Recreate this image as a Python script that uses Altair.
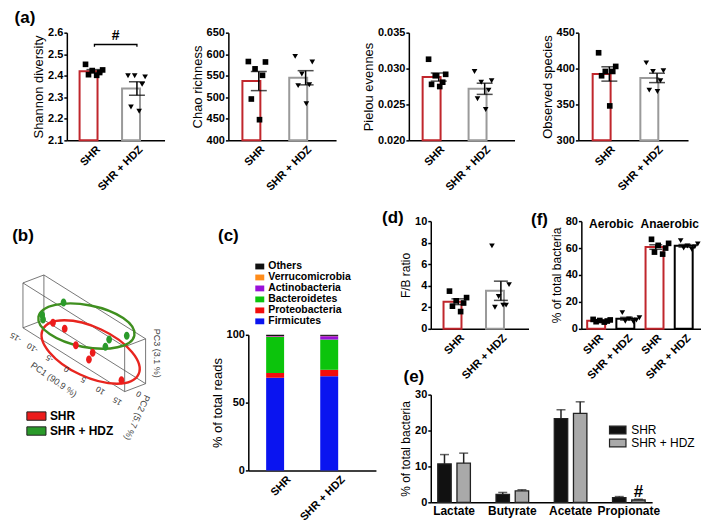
import itertools
import altair as alt
import numpy as np
import pandas as pd

FONT = "Liberation Sans"
GROUPS = ["SHR", "SHR + HDZ"]
RED = "#c0262c"
GRAY = "#9a9a9a"

# ---------------- data ----------------
# (a) alpha diversity (individual animals)
shannon_shr = [2.453, 2.427, 2.424, 2.415, 2.405, 2.402]
shannon_hdz = [2.400, 2.395, 2.400, 2.360, 2.255, 2.235]
chao_shr = [583, 582, 566, 551, 496, 448]
chao_hdz = [595, 582, 554, 529, 527, 485]
pielou_shr = [0.0313, 0.0292, 0.0290, 0.0281, 0.0278, 0.0275]
pielou_hdz = [0.0296, 0.0283, 0.0281, 0.0270, 0.0258, 0.0243]
observed_shr = [422, 403, 396, 396, 390, 348]
observed_hdz = [408, 397, 396, 383, 370, 368]
sig_x = ["SHR", "SHR", "SHR + HDZ", "SHR + HDZ"]
sig_y = [2.535, 2.545, 2.545, 2.535]
sig_label_y = 2.585

# (b) PCoA scores
pc1_lim = [-15, 15]
pc2_lim = [-6, 6]
pc3_lim = [-4, 4]
pc1_ticks = [-15, -10, -5, 0, 5, 10, 15]
pc2_ticks = [0]
b_shr_pc1 = [-8.2, -5.0, -1.2, 3.5, 2.3, 12.1]
b_shr_pc2 = [-2.0, -1.5, -2.5, -2.0, -1.8, -2.2]
b_shr_pc3 = [-1.0, -0.9, -2.3, -1.9, -3.6, -3.5]
b_hdz_pc1 = [-7.4, -13.2, -13.2, 6.2, 5.3, 11.5]
b_hdz_pc2 = [2.5, 1.5, 2.0, 2.2, 1.8, 2.0]
b_hdz_pc3 = [2.4, -1.9, -2.8, 1.0, -0.6, 3.7]
ell_pc1 = [2.9, -0.4]
ell_pc2 = [-2.0, 2.0]
ell_pc3 = [-2.0, 0.9]

# (c) phylum composition (%)
phyla = ["Firmicutes", "Proteobacteria", "Bacteroidetes", "Actinobacteria",
         "Verrucomicrobia", "Others"]
phyla_shr = [68.3, 3.5, 26.6, 0.6, 0.1, 0.9]
phyla_hdz = [69.5, 4.7, 22.3, 2.5, 0.2, 0.8]
phyla_colors = ["#0a14f0", "#f20c0c", "#0cc40c", "#9a10d8", "#ff8c1a", "#111111"]

# (d) F/B ratio
fb_shr = [3.5, 2.9, 2.6, 2.4, 2.1, 1.6]
fb_hdz = [7.7, 4.1, 3.0, 2.2, 2.0, 2.2]

# (f) aerobic / anaerobic
f_groups = ["Aerobic", "Anaerobic"]
aer_shr = [7.0, 6.6, 6.2, 5.8, 5.3, 5.0]
aer_hdz = [12.0, 8.2, 7.4, 6.6, 5.6, 5.2]
ana_shr = [66.5, 63.5, 62.0, 60.0, 57.0, 55.5]
ana_hdz = [65.5, 63.0, 61.5, 61.0, 60.0, 59.0]

# (e) short-chain fatty acids (mean, SEM)
acids = ["Lactate", "Butyrate", "Acetate", "Propionate"]
scfa_shr_mean = [10.7, 2.2, 23.3, 1.3]
scfa_shr_sem = [2.6, 0.55, 2.5, 0.3]
scfa_hdz_mean = [10.9, 3.2, 24.8, 0.65]
scfa_hdz_sem = [2.8, 0.3, 3.2, 0.2]
e_sig_y = 2.9

# ---------------- style helpers ----------------
JIT = [-0.6, 0.55, -0.15, 0.35, -0.4, 0.15]


def y_axis(title, values, fmt, title_size=13):
    return alt.Axis(title=title, values=values, format=fmt, grid=False,
                    titleFontSize=title_size, titleFontWeight="normal", titlePadding=2,
                    labelFontSize=11, labelFontWeight="bold", labelPadding=1,
                    tickSize=3, tickWidth=1.5, domainWidth=1.5)


def x_rot_axis(label_expr=None):
    kw = dict(title=None, labelAngle=-45, ticks=False, labelFontSize=11,
              labelFontWeight="bold", labelPadding=3, domainWidth=1.5)
    if label_expr:
        kw["labelExpr"] = label_expr
    return alt.Axis(**kw)


def label(txt, x, y, size=17, weight="bold", angle=0, color="black"):
    return alt.Chart(pd.DataFrame({"t": [txt]})).mark_text(
        fontSize=size, fontWeight=weight, align="center", baseline="middle",
        angle=angle, color=color).encode(text="t:N", x=alt.value(x), y=alt.value(y))


def dot_bar(slots, trts, vals, slot_domain, title, domain, ticks, fmt,
            hdz_color=GRAY, label_expr=None, pi=0.3, po=0.3, title_size=13, cap=16):
    pts = pd.DataFrame({"slot": slots, "trt": trts, "v": vals})
    pts["jit"] = [JIT[k % len(JIT)] for k in pts.groupby("slot").cumcount()]
    st = pts.groupby(["slot", "trt"], sort=False)["v"].agg(["mean", "sem"]).reset_index()
    st["lo"] = st["mean"] - st["sem"]
    st["hi"] = st["mean"] + st["sem"]
    bars = st.rename(columns={"mean": "v"})
    caps = pd.concat([st[["slot", "lo"]].rename(columns={"lo": "v"}),
                      st[["slot", "hi"]].rename(columns={"hi": "v"})])

    ysc = alt.Scale(domain=domain, nice=False, zero=False)
    yax = y_axis(title, ticks, fmt, title_size)

    def Y(f):
        return alt.Y(f"{f}:Q", scale=ysc, axis=yax)

    X = alt.X("slot:N", scale=alt.Scale(domain=slot_domain, paddingInner=pi, paddingOuter=po),
              axis=x_rot_axis(label_expr))
    is_shr = "datum.trt == 'SHR'"
    bar = alt.Chart(bars).mark_bar(fill="white", strokeWidth=2).encode(
        x=X, y=Y("v"), y2=alt.datum(domain[0]),
        stroke=alt.condition(is_shr, alt.value(RED), alt.value(hdz_color)))
    rule = alt.Chart(st).mark_rule(color="black", strokeWidth=1.5).encode(
        x=X, y=Y("lo"), y2="hi:Q")
    tick = alt.Chart(caps).mark_tick(color="black", size=cap, thickness=1.5).encode(
        x=X, y=Y("v"))
    dots = alt.Chart(pts).mark_point(filled=True, opacity=1, size=32, color="black").encode(
        x=X, y=Y("v"),
        xOffset=alt.XOffset("jit:Q", scale=alt.Scale(domain=[-1, 1])),
        shape=alt.condition(is_shr, alt.value("square"), alt.value("triangle-down")))
    return [bar, dots, rule, tick], X, Y


# ---------------- (a) ----------------
a_specs = [
    ("Shannon diversity", shannon_shr, shannon_hdz, [2.1, 2.6],
     [2.1, 2.2, 2.3, 2.4, 2.5, 2.6], ".1f", 98),
    ("Chao richness", chao_shr, chao_hdz, [400, 650],
     [400, 450, 500, 550, 600, 650], "d", 108),
    ("Pielou evennes", pielou_shr, pielou_hdz, [0.020, 0.035],
     [0.020, 0.025, 0.030, 0.035], ".3f", 106),
    ("Observed species", observed_shr, observed_hdz, [300, 450],
     [300, 350, 400, 450], "d", 110),
]
A_H = 108
a_charts = []
for i, (ttl, s, h, dom, tk, fmt, w) in enumerate(a_specs):
    grp = ["SHR"] * len(s) + ["SHR + HDZ"] * len(h)
    layers, X, Y = dot_bar(grp, grp, s + h, GROUPS, ttl, dom, tk, fmt)
    if i == 0:
        br = pd.DataFrame({"slot": sig_x, "v": sig_y, "o": range(len(sig_x))})
        layers.append(alt.Chart(br).mark_line(color="black", strokeWidth=1.3).encode(
            x=X, y=Y("v"), order="o:Q"))
        layers.append(alt.Chart(pd.DataFrame({"t": ["#"], "v": [sig_label_y]})).mark_text(
            fontSize=14, fontWeight="bold", color="black").encode(
            text="t:N", x=alt.value(w / 2), y=Y("v")))
        layers.append(label("(a)", -42, -15))
    a_charts.append(alt.layer(*layers).properties(width=w, height=A_H))

row1 = alt.hconcat(*a_charts, spacing=26)

# ---------------- (b) ----------------
B_W, B_H = 138, 225
B_SHIFT_X, B_SHIFT_Y = 54, 11
VIEW_O = (10, 118)
VIEW_U = (102, 64)
VIEW_V = (21, -8)
VIEW_H = (0, -45)


def project(p1, p2, p3):
    a = (np.asarray(p1, float) - pc1_lim[0]) / (pc1_lim[1] - pc1_lim[0])
    s = (np.asarray(p2, float) - pc2_lim[0]) / (pc2_lim[1] - pc2_lim[0])
    c = (np.asarray(p3, float) - pc3_lim[0]) / (pc3_lim[1] - pc3_lim[0])
    sx = VIEW_O[0] + a * VIEW_U[0] + s * VIEW_V[0] + c * VIEW_H[0]
    sy = VIEW_O[1] + a * VIEW_U[1] + s * VIEW_V[1] + c * VIEW_H[1]
    return sx, sy


bX = alt.X("sx:Q", scale=alt.Scale(domain=[B_SHIFT_X, B_SHIFT_X + B_W], nice=False,
                                   zero=False), axis=None)
bY = alt.Y("sy:Q", scale=alt.Scale(domain=[B_SHIFT_Y, B_SHIFT_Y + B_H], nice=False,
                                   zero=False, reverse=True), axis=None)

lims = (pc1_lim, pc2_lim, pc3_lim)
corners = list(itertools.product([0, 1], repeat=3))
edge_rows = []
eid = 0
for i, c1 in enumerate(corners):
    for c2 in corners[i + 1:]:
        if sum(abs(p - q) for p, q in zip(c1, c2)) == 1:
            for o, cn in enumerate((c1, c2)):
                sx, sy = project(*[lims[k][cn[k]] for k in range(3)])
                edge_rows.append({"edge": eid, "o": o, "sx": float(sx), "sy": float(sy)})
            eid += 1
edges = alt.Chart(pd.DataFrame(edge_rows)).mark_line(color="#555555", strokeWidth=0.8).encode(
    x=bX, y=bY, detail="edge:N", order="o:Q")

sx_s, sy_s = project(b_shr_pc1, b_shr_pc2, b_shr_pc3)
sx_h, sy_h = project(b_hdz_pc1, b_hdz_pc2, b_hdz_pc3)
pts_b = pd.DataFrame({"grp": ["SHR"] * 6 + ["SHR + HDZ"] * 6,
                      "sx": np.concatenate([sx_s, sx_h]), "sy": np.concatenate([sy_s, sy_h])})
SPHERE = "M0,-1A0.72,1 0 1,1 0,1A0.72,1 0 1,1 0,-1Z"
b_points = alt.Chart(pts_b).mark_point(filled=True, opacity=1, size=64, shape=SPHERE).encode(
    x=bX, y=bY,
    color=alt.Color("grp:N", scale=alt.Scale(domain=GROUPS, range=["#ec1c1c", "#2a9a2a"]),
                    legend=alt.Legend(title=None, orient="none", legendX=17 - B_SHIFT_X,
                                      legendY=200 - B_SHIFT_Y,
                                      symbolType="M-1.6,-0.7H1.6V0.7H-1.6Z", symbolSize=144,
                                      symbolStrokeColor="#222222", symbolStrokeWidth=1,
                                      labelFontSize=12, labelFontWeight="bold",
                                      labelColor="black", labelOffset=7, rowPadding=2)))

esx, esy = project(ell_pc1, ell_pc2, ell_pc3)
ell_styles = [("#e8251f", 0.47, 106, 25), ("#3f8f1f", 0.43, 98, 11)]
ell_layers = []
for k, (col, ratio, length, ang) in enumerate(ell_styles):
    path = f"M-1,0A1,{ratio} 0 1,1 1,0A1,{ratio} 0 1,1 -1,0Z"
    ell_layers.append(
        alt.Chart(pd.DataFrame({"sx": [float(esx[k])], "sy": [float(esy[k])]})).mark_point(
            shape=path, size=length ** 2, angle=ang, filled=False, opacity=1,
            strokeWidth=2.4, color=col).encode(x=bX, y=bY))

tx, ty = project(pc1_ticks, [pc2_lim[0]] * len(pc1_ticks), [pc3_lim[0]] * len(pc1_ticks))
pc1_lab = alt.Chart(pd.DataFrame({"t": [str(v) for v in pc1_ticks], "sx": tx - 7, "sy": ty + 9})
                    ).mark_text(angle=212, fontSize=8, color="#333333").encode(
    x=bX, y=bY, text="t:N")
t2x, t2y = project([pc1_lim[1]] * len(pc2_ticks), pc2_ticks, [pc3_lim[0]] * len(pc2_ticks))
pc2_lab = alt.Chart(pd.DataFrame({"t": [str(v) for v in pc2_ticks], "sx": t2x + 4, "sy": t2y + 6})
                    ).mark_text(angle=212, fontSize=8, color="#333333").encode(
    x=bX, y=bY, text="t:N")

ax_titles = []
for txt, p, off, ang in [("PC1 (90.9 %)", (0, pc2_lim[0], pc3_lim[0]), (-20, 20), 35),
                         ("PC3 (3.1 %)", (pc1_lim[1], pc2_lim[1], 0), (11, -8), 90),
                         ("PC2 (5.7 %)", (pc1_lim[1], 0, pc3_lim[0]), (2, 30), 115)]:
    px, py = project(*p)
    ax_titles.append(alt.Chart(pd.DataFrame({"t": [txt], "sx": [float(px) + off[0]],
                                             "sy": [float(py) + off[1]]})).mark_text(
        angle=ang, fontSize=9, color="#444444").encode(x=bX, y=bY, text="t:N"))

panel_b = alt.layer(edges, *ell_layers, b_points, pc1_lab, pc2_lab, *ax_titles,
                    label("(b)", 10 - B_SHIFT_X, 26 - B_SHIFT_Y)).properties(
    width=B_W, height=B_H)

# ---------------- (c) ----------------
C_W, C_H = 128, 136
c_df = pd.DataFrame({"trt": ["SHR"] * len(phyla) + ["SHR + HDZ"] * len(phyla),
                     "phylum": phyla * 2, "pct": phyla_shr + phyla_hdz,
                     "ord": list(range(len(phyla))) * 2})
legend_order = phyla[::-1]
c_colors = phyla_colors[::-1]
c_bars = alt.Chart(c_df).mark_bar().encode(
    x=alt.X("trt:N", scale=alt.Scale(domain=GROUPS, paddingInner=0.3, paddingOuter=0.33),
            axis=x_rot_axis()),
    y=alt.Y("pct:Q", stack="zero", scale=alt.Scale(domain=[0, 100], nice=False),
            axis=y_axis("% of total reads", [0, 50, 100], "d")),
    color=alt.Color("phylum:N", scale=alt.Scale(domain=legend_order, range=c_colors),
                    legend=alt.Legend(title=None, orient="none", legendX=6, legendY=-74,
                                      symbolType="M-1,-0.65H1V0.65H-1Z", symbolSize=81,
                                      labelFontSize=10.5, labelFontWeight="bold",
                                      labelColor="black", labelOffset=3, rowPadding=-1)),
    order=alt.Order("ord:Q", sort="ascending"))
panel_c = c_bars.properties(width=C_W, height=C_H)
c_head = label("(c)", -20, 15).properties(width=C_W, height=30)
c_col = alt.vconcat(c_head, panel_c, spacing=10).resolve_scale(
    color="independent").resolve_legend(color="independent")

# ---------------- (d) ----------------
D_W, D_H = 98, 108
d_grp = ["SHR"] * len(fb_shr) + ["SHR + HDZ"] * len(fb_hdz)
d_layers, _, _ = dot_bar(d_grp, d_grp, fb_shr + fb_hdz, GROUPS, "F/B ratio", [0, 10],
                         [0, 2, 4, 6, 8, 10], "d", title_size=12, cap=14)
panel_d = alt.layer(*d_layers, label("(d)", -38, -3), label("(e)", -17, 156)).properties(
    width=D_W, height=D_H)

# ---------------- (f) ----------------
F_W, F_H = 120, 108
f_slots = ["aS", "aH", "nS", "nH"]
f_layers, fX, fY = dot_bar(
    ["aS"] * 6 + ["aH"] * 6 + ["nS"] * 6 + ["nH"] * 6,
    (["SHR"] * 6 + ["SHR + HDZ"] * 6) * 2,
    aer_shr + aer_hdz + ana_shr + ana_hdz, f_slots, "% of total bacteria", [0, 80],
    [0, 20, 40, 60, 80], "d", hdz_color="black",
    label_expr="datum.value == 'aS' || datum.value == 'nS' ? 'SHR' : 'SHR + HDZ'",
    pi=0.3, po=0.2, title_size=12, cap=13)
grp_txt = alt.Chart(pd.DataFrame({"slot": ["aS", "nS"], "t": f_groups, "v": [77.5, 77.5]})
                    ).mark_text(fontSize=12, fontWeight="bold", dx=14, color="black").encode(
    x=fX, y=fY("v"), text="t:N")
panel_f = alt.layer(*f_layers, grp_txt, label("(f)", -42, -1)).properties(
    width=F_W, height=F_H)

# ---------------- (e) ----------------
E_W, E_H = 222, 108
e_df = pd.DataFrame({"acid": acids * 2, "trt": ["SHR"] * 4 + ["SHR + HDZ"] * 4,
                     "m": scfa_shr_mean + scfa_hdz_mean,
                     "sem": scfa_shr_sem + scfa_hdz_sem})
e_df["hi"] = e_df["m"] + e_df["sem"]
eX = alt.X("acid:N", scale=alt.Scale(domain=acids, paddingInner=0.44, paddingOuter=0.12),
           axis=alt.Axis(title=None, labelAngle=0, ticks=False, labelFontSize=12,
                         labelFontWeight="bold", labelPadding=3, domainWidth=1.5))
eXO = alt.XOffset("trt:N", scale=alt.Scale(domain=GROUPS, paddingInner=0.3))
e_ysc = alt.Scale(domain=[0, 30], nice=False)
e_yax = y_axis("% of total bacteria", [0, 10, 20, 30], "d", 12)


def eY(f):
    return alt.Y(f"{f}:Q", scale=e_ysc, axis=e_yax)


e_bars = alt.Chart(e_df).mark_bar(stroke="#222222", strokeWidth=1.3).encode(
    x=eX, xOffset=eXO, y=eY("m"),
    color=alt.Color("trt:N", scale=alt.Scale(domain=GROUPS, range=["#111111", "#a9a9a9"]),
                    legend=alt.Legend(title=None, orient="none", legendX=181, legendY=29,
                                      symbolType="M-1.5,-0.7H1.5V0.7H-1.5Z", symbolSize=121,
                                      symbolStrokeColor="#222222", symbolStrokeWidth=1.2,
                                      labelFontSize=12, labelColor="black", labelOffset=7,
                                      rowPadding=-1)))
e_rule = alt.Chart(e_df).mark_rule(color="#222222", strokeWidth=1.5).encode(
    x=eX, xOffset=eXO, y=eY("m"), y2="hi:Q")
e_tick = alt.Chart(e_df).mark_tick(color="#222222", size=9, thickness=1.5).encode(
    x=eX, xOffset=eXO, y=eY("hi"))
e_sig = alt.Chart(pd.DataFrame({"acid": ["Propionate"], "trt": ["SHR + HDZ"], "v": [e_sig_y],
                                "t": ["#"]})).mark_text(
    fontSize=17, fontWeight="bold", color="black").encode(
    x=eX, xOffset=eXO, y=eY("v"), text="t:N")
panel_e = alt.layer(e_bars, e_rule, e_tick, e_sig).properties(width=E_W, height=E_H)

# ---------------- layout ----------------
df_row = alt.hconcat(panel_d, panel_f, spacing=2)
right = alt.vconcat(df_row, panel_e, spacing=4).resolve_scale(
    color="independent").resolve_legend(color="independent")
row2 = alt.hconcat(panel_b, c_col, right, spacing=6).resolve_scale(
    color="independent").resolve_legend(color="independent")

chart = alt.vconcat(row1, row2, spacing=16).properties(padding=0).configure(
    font=FONT).configure_view(stroke=None).configure_axis(
    grid=False, domainColor="black", tickColor="black", labelColor="black",
    titleColor="black", labelFont=FONT, titleFont=FONT).configure_legend(
    labelFont=FONT).configure_title(font=FONT)

chart.save("out.html", embed_options={"renderer": "svg", "actions": False})
